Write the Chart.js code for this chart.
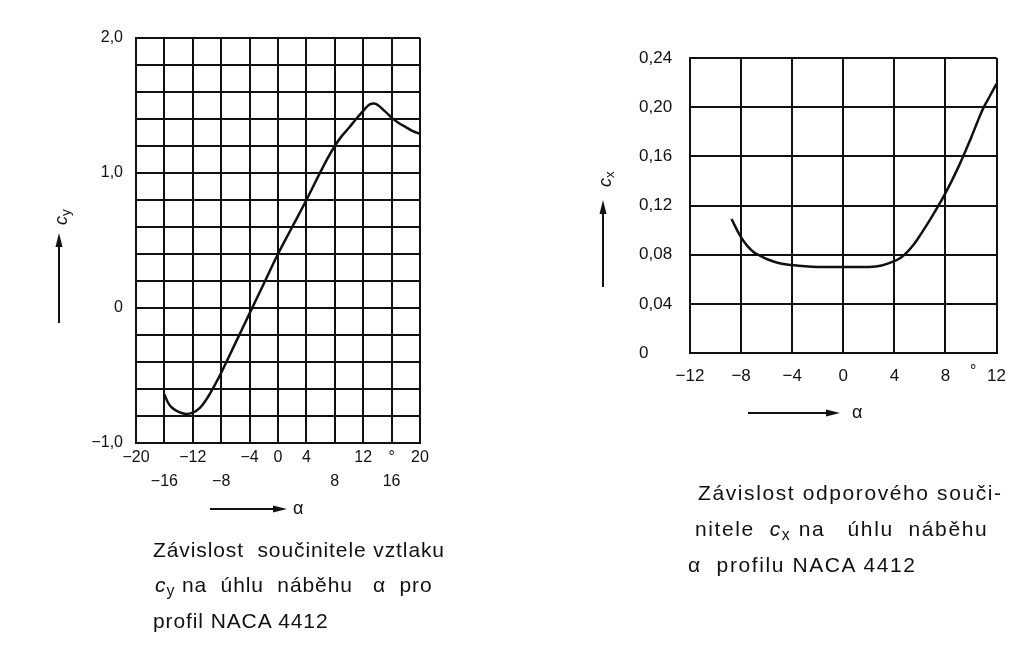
<!DOCTYPE html>
<html>
<head>
<meta charset="utf-8">
<script src="https://cdn.jsdelivr.net/npm/chart.js@4.4.0/dist/chart.umd.min.js"></script>
<style>
  body { margin: 0; background: #fff; }
  #page { position: relative; width: 1019px; height: 645px; overflow: hidden;
          font-family: "Liberation Sans", Arial, sans-serif; color: #111; }
  canvas { position: absolute; }
  .t { position: absolute; white-space: pre; }
  .cap { font-size: 21px; line-height: 35px; }
  .axt { font-size: 18px; width: 30px; height: 20px; line-height: 20px; text-align: center;
         transform: rotate(-90deg); }
  sub { font-size: 0.75em; vertical-align: -0.25em; line-height: 0; }
</style>
</head>
<body>
<div id="page">
  <canvas id="liftChart" width="440" height="500" style="left:0;top:0"></canvas>
  <canvas id="dragChart" width="459" height="440" style="left:560px;top:0"></canvas>

  <svg width="1019" height="645" style="position:absolute;left:0;top:0" stroke="#111" fill="#111">
    <line x1="59" y1="323" x2="59" y2="245" stroke-width="2"/>
    <polygon points="59,233 55.5,247 62.5,247" stroke="none"/>
    <line x1="603" y1="287" x2="603" y2="212" stroke-width="2"/>
    <polygon points="603,200 599.5,214 606.5,214" stroke="none"/>
    <line x1="210" y1="509" x2="276" y2="509" stroke-width="2"/>
    <polygon points="287,509 273,505.5 273,512.5" stroke="none"/>
    <line x1="748" y1="413" x2="828" y2="413" stroke-width="2"/>
    <polygon points="840,413 826,409.5 826,416.5" stroke="none"/>
  </svg>

  <div class="t axt" style="left:46px;top:207px"><i>c</i><sub>y</sub></div>
  <div class="t axt" style="left:590px;top:169px"><i>c</i><sub>x</sub></div>
  <div class="t" style="left:293px;top:498px;font-size:18px">α</div>
  <div class="t" style="left:852px;top:402px;font-size:18px">α</div>
  <div class="t" style="left:970px;top:362px;font-size:16px">°</div>

  <div class="t cap" style="left:153px;top:532px;letter-spacing:0.9px">Závislost  součinitele vztlaku</div>
  <div class="t cap" style="left:155px;top:567px;letter-spacing:0.9px"><i>c</i><sub>y</sub> na  úhlu  náběhu   α  pro</div>
  <div class="t cap" style="left:153px;top:603px;letter-spacing:0.9px">profil NACA 4412</div>

  <div class="t cap" style="left:698px;top:475px;letter-spacing:1.6px">Závislost odporového souči-</div>
  <div class="t cap" style="left:695px;top:511px;letter-spacing:1.6px">nitele  <i>c</i><sub>x</sub> na   úhlu  náběhu</div>
  <div class="t cap" style="left:688px;top:547px;letter-spacing:1.6px">α  profilu NACA 4412</div>
</div>

<script>
// lift coefficient cy vs angle of attack (deg)
const liftAlpha = [-16, -15.5, -15, -14, -13, -12, -11, -10, -9, -8, -6, -4, -2, 0, 2, 4, 6, 7, 8, 9, 10, 11, 12, 12.5, 13, 13.5, 14, 15, 16, 17, 18, 19, 20]
const liftCy = [-0.64, -0.70, -0.735, -0.77, -0.785, -0.775, -0.74, -0.67, -0.58, -0.48, -0.26, -0.04, 0.18, 0.40, 0.60, 0.80, 1.01, 1.11, 1.20, 1.275, 1.335, 1.40, 1.46, 1.49, 1.51, 1.515, 1.505, 1.46, 1.41, 1.37, 1.34, 1.31, 1.29]
const liftYLabels = [-1, 0, 1, 2]
const liftXBottomRow = [-16, -8, 8, 16]

// drag coefficient cx vs angle of attack (deg)
const dragAlpha = [-8.75, -8, -7.5, -7, -6.5, -6, -5, -4, -3, -2, 0, 2, 3, 4, 4.5, 5, 5.5, 6, 7, 8, 9, 10, 10.5, 11, 11.5, 12]
const dragCx = [0.109, 0.094, 0.087, 0.082, 0.079, 0.0765, 0.073, 0.0715, 0.0705, 0.070, 0.070, 0.070, 0.0712, 0.0748, 0.0775, 0.082, 0.088, 0.0955, 0.112, 0.130, 0.151, 0.175, 0.188, 0.200, 0.2095, 0.219]

const ink = '#111'
const fontFamily = '"Liberation Sans", Arial, sans-serif'

const fmtInt = v => (v < 0 ? '\u2212' : '') + Math.abs(v)
const fmtDec = (v, d) => Math.abs(v) < 1e-9 ? '0' : (v < 0 ? '\u2212' : '') + Math.abs(v).toFixed(d).replace('.', ',')

const gridOpts = { color: ink, lineWidth: 2, drawTicks: false }
const borderOpts = { color: ink, width: 2 }

function mountChart(canvas, xs, ys, cfg) {
  const points = xs.map((x, i) => ({ x: x, y: ys[i] }))
  return new Chart(canvas.getContext('2d'), {
    type: 'line',
    data: {
      datasets: [{
        data: points,
        borderColor: ink,
        borderWidth: 2.5,
        pointRadius: 0,
        tension: 0.4,
        fill: false
      }]
    },
    options: {
      responsive: false,
      animation: false,
      layout: { padding: cfg.padding },
      plugins: { legend: { display: false }, tooltip: { enabled: false } },
      scales: {
        x: {
          type: 'linear',
          min: cfg.xMin, max: cfg.xMax,
          grid: gridOpts, border: borderOpts,
          afterFit: s => { s.height = cfg.xHeight },
          ticks: {
            stepSize: cfg.xStep, autoSkip: false, maxRotation: 0,
            padding: cfg.xPad, color: ink,
            font: { family: fontFamily, size: cfg.fontSize, lineHeight: cfg.xLineHeight },
            callback: cfg.xLabel
          }
        },
        y: {
          type: 'linear',
          min: cfg.yMin, max: cfg.yMax,
          grid: gridOpts, border: borderOpts,
          afterFit: s => { s.width = cfg.yWidth },
          ticks: {
            stepSize: cfg.yStep, autoSkip: false,
            padding: cfg.yPad, color: ink, crossAlign: cfg.yAlign,
            font: { family: fontFamily, size: cfg.fontSize },
            callback: cfg.yLabel
          }
        }
      }
    }
  })
}

mountChart(document.getElementById('liftChart'), liftAlpha, liftCy, {
  padding: { left: 0, top: 38, right: 20, bottom: 7 },
  xMin: -20, xMax: 20, xStep: 4, xHeight: 50, xPad: 3, xLineHeight: 1.5,
  yMin: -1, yMax: 2, yStep: 0.2, yWidth: 136, yPad: 13, yAlign: 'near',
  fontSize: 16,
  xLabel: v => {
    const t = fmtInt(v)
    if (v === 16) return ['°', t]
    return liftXBottomRow.includes(v) ? ['', t] : t
  },
  yLabel: v => {
    const r = Math.round(v * 10) / 10
    return liftYLabels.includes(r) ? fmtDec(r, 1) : ''
  }
})

mountChart(document.getElementById('dragChart'), dragAlpha, dragCx, {
  padding: { left: 79, top: 58, right: 19, bottom: 47 },
  xMin: -12, xMax: 12, xStep: 4, xHeight: 40, xPad: 13, xLineHeight: 1.2,
  yMin: 0, yMax: 0.24, yStep: 0.04, yWidth: 51, yPad: 10, yAlign: 'far',
  fontSize: 17,
  xLabel: v => fmtInt(v),
  yLabel: v => fmtDec(Math.round(v * 100) / 100, 2)
})
</script>
</body>
</html>
